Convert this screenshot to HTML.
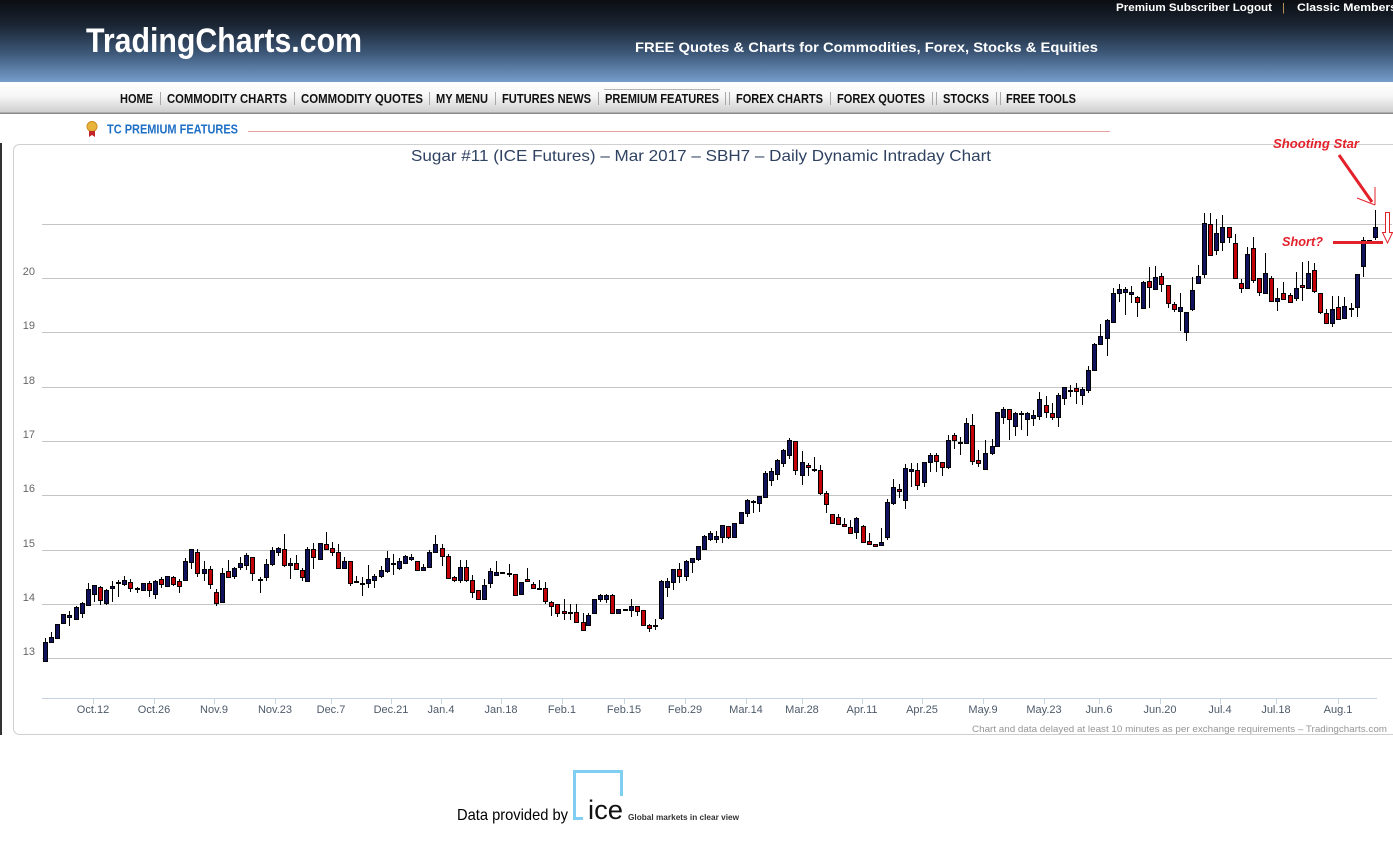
<!DOCTYPE html>
<html>
<head>
<meta charset="utf-8">
<style>
html,body{margin:0;padding:0;background:#fff;}
body{width:1393px;height:841px;overflow:hidden;position:relative;}
svg{display:block;}
text{font-family:"Liberation Sans",Arial,sans-serif;}
</style>
</head>
<body>
<svg id="s" width="1393" height="841" viewBox="0 0 1393 841" xmlns="http://www.w3.org/2000/svg">
<defs>
<linearGradient id="hdr" x1="0" y1="0" x2="0" y2="1">
<stop offset="0" stop-color="#0b0e12"/>
<stop offset="0.3" stop-color="#1a2432"/>
<stop offset="0.65" stop-color="#3d5879"/>
<stop offset="1" stop-color="#769dcb"/>
</linearGradient>
<linearGradient id="nav" x1="0" y1="0" x2="0" y2="1">
<stop offset="0" stop-color="#ffffff"/>
<stop offset="0.45" stop-color="#f6f6f6"/>
<stop offset="1" stop-color="#cdcdcd"/>
</linearGradient>
</defs>
<!-- header -->
<rect x="0" y="0" width="1393" height="82" fill="url(#hdr)"/>
<text x="86" y="52" font-size="34" font-weight="bold" fill="#fff" textLength="276" lengthAdjust="spacingAndGlyphs">TradingCharts.com</text>
<text x="635" y="52" font-size="14" font-weight="bold" fill="#fff" textLength="463" lengthAdjust="spacingAndGlyphs">FREE Quotes &amp; Charts for Commodities, Forex, Stocks &amp; Equities</text>
<text x="1116" y="11" font-size="11" font-weight="bold" fill="#fff" textLength="156" lengthAdjust="spacingAndGlyphs">Premium Subscriber Logout</text>
<text x="1282" y="11" font-size="11" fill="#c9a063">|</text>
<text x="1297" y="11" font-size="11" font-weight="bold" fill="#fff" textLength="100" lengthAdjust="spacingAndGlyphs">Classic Members</text>
<!-- nav -->
<rect x="0" y="82" width="1393" height="31" fill="url(#nav)"/>
<rect x="0" y="112.5" width="1393" height="1.5" fill="#8a8a8a"/>
<line x1="604" y1="89.5" x2="720" y2="89.5" stroke="#b5b5b5" stroke-width="1"/>
<g font-family="'Liberation Sans Narrow','Liberation Sans',sans-serif" font-size="12.5" font-weight="bold" fill="#111">
<text x="120" y="103" textLength="33" lengthAdjust="spacingAndGlyphs">HOME</text>
<text x="167" y="103" textLength="120" lengthAdjust="spacingAndGlyphs">COMMODITY CHARTS</text>
<text x="301" y="103" textLength="122" lengthAdjust="spacingAndGlyphs">COMMODITY QUOTES</text>
<text x="436" y="103" textLength="52" lengthAdjust="spacingAndGlyphs">MY MENU</text>
<text x="502" y="103" textLength="89" lengthAdjust="spacingAndGlyphs">FUTURES NEWS</text>
<text x="605" y="103" textLength="114" lengthAdjust="spacingAndGlyphs">PREMIUM FEATURES</text>
<text x="736" y="103" textLength="87" lengthAdjust="spacingAndGlyphs">FOREX CHARTS</text>
<text x="837" y="103" textLength="88" lengthAdjust="spacingAndGlyphs">FOREX QUOTES</text>
<text x="943" y="103" textLength="46" lengthAdjust="spacingAndGlyphs">STOCKS</text>
<text x="1006" y="103" textLength="70" lengthAdjust="spacingAndGlyphs">FREE TOOLS</text>
</g>
<g stroke="#a8a8a8" stroke-width="1">
<line x1="160.5" y1="92" x2="160.5" y2="105"/>
<line x1="294.5" y1="92" x2="294.5" y2="105"/>
<line x1="429.5" y1="92" x2="429.5" y2="105"/>
<line x1="495.5" y1="92" x2="495.5" y2="105"/>
<line x1="598.5" y1="92" x2="598.5" y2="105"/>
<line x1="725.5" y1="92" x2="725.5" y2="105"/>
<line x1="729.5" y1="92" x2="729.5" y2="105"/>
<line x1="830.5" y1="92" x2="830.5" y2="105"/>
<line x1="932.5" y1="92" x2="932.5" y2="105"/>
<line x1="936.5" y1="92" x2="936.5" y2="105"/>
<line x1="996.5" y1="92" x2="996.5" y2="105"/>
<line x1="1000.5" y1="92" x2="1000.5" y2="105"/>
</g>
<!-- TC premium -->
<circle cx="92" cy="126.5" r="5" fill="#e9b43a" stroke="#c98a1c" stroke-width="1"/>
<path d="M89,131 L89,137 L92,135 L95,137 L95,131 Z" fill="#c0262a"/>
<text x="107" y="133.5" font-family="'Liberation Sans Narrow','Liberation Sans',sans-serif" font-size="12.5" font-weight="bold" fill="#1e6fc6" textLength="131" lengthAdjust="spacingAndGlyphs">TC PREMIUM FEATURES</text>
<line x1="248" y1="131.5" x2="1110" y2="131.5" stroke="#eaa0a0" stroke-width="1"/>
<!-- left dark line -->
<rect x="0" y="143" width="2" height="592" fill="#333"/>
<!-- frame -->
<rect x="13.5" y="144.5" width="1400" height="590" rx="6" ry="6" fill="#fff" stroke="#cfcfcf" stroke-width="1"/>
<text x="411" y="161" font-size="16" fill="#2f4262" textLength="580" lengthAdjust="spacingAndGlyphs">Sugar #11 (ICE Futures) – Mar 2017 – SBH7 – Daily Dynamic Intraday Chart</text>
<!-- grid -->
<g stroke="#c4c4c4" stroke-width="1">
<line x1="42" y1="224.5" x2="1392" y2="224.5"/>
<line x1="42" y1="278.5" x2="1392" y2="278.5"/>
<line x1="42" y1="332.5" x2="1392" y2="332.5"/>
<line x1="42" y1="387.5" x2="1392" y2="387.5"/>
<line x1="42" y1="441.5" x2="1392" y2="441.5"/>
<line x1="42" y1="495.5" x2="1392" y2="495.5"/>
<line x1="42" y1="550.5" x2="1392" y2="550.5"/>
<line x1="42" y1="604.5" x2="1392" y2="604.5"/>
<line x1="42" y1="658.5" x2="1392" y2="658.5"/>
</g>
<g font-size="11" fill="#666" text-anchor="end">
<text x="35" y="275">20</text>
<text x="35" y="329">19</text>
<text x="35" y="384">18</text>
<text x="35" y="438">17</text>
<text x="35" y="492">16</text>
<text x="35" y="547">15</text>
<text x="35" y="601">14</text>
<text x="35" y="655">13</text>
</g>
<!-- x axis -->
<line x1="42" y1="698.5" x2="1377" y2="698.5" stroke="#c6d4e2" stroke-width="1"/>
<g id="xt" stroke="#c6d4e2" stroke-width="1"></g>
<g id="xl" font-size="11" fill="#4d5a6a" text-anchor="middle"></g>
<text x="972" y="732" font-size="9.5" fill="#959595" textLength="415" lengthAdjust="spacingAndGlyphs">Chart and data delayed at least 10 minutes as per exchange requirements – Tradingcharts.com</text>
<!-- candles -->
<g id="cd" shape-rendering="crispEdges"></g>
<!-- annotations -->
<text x="1273" y="148" font-size="13" font-weight="bold" font-style="italic" fill="#e3212b" textLength="86" lengthAdjust="spacingAndGlyphs">Shooting Star</text>
<line x1="1339" y1="155" x2="1372" y2="202" stroke="#e3212b" stroke-width="3"/>
<line x1="1375" y1="205" x2="1357" y2="198" stroke="#e3212b" stroke-width="1"/>
<line x1="1375" y1="205" x2="1375" y2="187" stroke="#e3212b" stroke-width="1"/>
<text x="1282" y="246" font-size="13" font-weight="bold" font-style="italic" fill="#e3212b" textLength="41" lengthAdjust="spacingAndGlyphs">Short?</text>
<rect x="1333" y="241" width="50" height="3" fill="#e3212b"/>
<path d="M1385.5,212.5 L1389.5,212.5 L1389.5,232.5 L1392.5,232.5 L1387.5,243 L1382.5,232.5 L1385.5,232.5 Z" fill="#fff" stroke="#e3212b" stroke-width="1"/>
<!-- footer -->
<text x="457" y="820" font-family="'Liberation Serif',serif" font-size="16" fill="#000" textLength="111" lengthAdjust="spacingAndGlyphs">Data provided by</text>
<path d="M574.5,819 L574.5,771.5 L621.5,771.5 L621.5,796" fill="none" stroke="#80cff3" stroke-width="3"/>
<rect x="573" y="817" width="10" height="3" fill="#80cff3"/>
<text x="588" y="819" font-size="27" fill="#111" textLength="35" lengthAdjust="spacingAndGlyphs">ice</text>
<text x="628" y="820" font-size="8" font-weight="bold" fill="#333" textLength="111" lengthAdjust="spacingAndGlyphs">Global markets in clear view</text>
</svg>
<script>
(function(){
var NS="http://www.w3.org/2000/svg";
function el(t,a,p){var e=document.createElementNS(NS,t);for(var k in a)e.setAttribute(k,a[k]);p.appendChild(e);return e;}
var ticks=[[93,"Oct.12"],[154,"Oct.26"],[214,"Nov.9"],[275,"Nov.23"],[331,"Dec.7"],[391,"Dec.21"],[441,"Jan.4"],[501,"Jan.18"],[562,"Feb.1"],[624,"Feb.15"],[685,"Feb.29"],[746,"Mar.14"],[802,"Mar.28"],[862,"Apr.11"],[922,"Apr.25"],[983,"May.9"],[1044,"May.23"],[1099,"Jun.6"],[1160,"Jun.20"],[1220,"Jul.4"],[1276,"Jul.18"],[1338,"Aug.1"]];
var xt=document.getElementById("xt"),xl=document.getElementById("xl");
ticks.forEach(function(t){el("line",{x1:t[0]+0.5,x2:t[0]+0.5,y1:698,y2:704},xt);var tx=el("text",{x:t[0],y:713},xl);tx.textContent=t[1];});
var C=[
[45,642.3,660.7,638.3,660.7,0],[51.3,637.3,642.3,632.3,642.3,0],[57.3,624.3,638.3,624.3,638.3,0],[63.3,614.3,623.3,614.3,623.3,0],[69.3,615.3,616.7,610.7,626,0],[76.3,607.3,618.7,606,619.3,0],[82,603.3,612.7,602,618,0],[88.3,589.3,605.3,583.3,605.3,0],[94.3,585.3,594,585.3,601.7,0],[100.3,586.7,600,586,604.7,1],
[106.3,590,602.7,589.3,604.7,0],[112.3,586.3,588.3,581.3,601.7,0],[118.3,582,583.3,580,597.3,0],[124.3,580.3,584,576,586,0],[130.3,582,588.3,579.3,591.7,1],[137.3,588.3,589.3,586.7,593.3,0],[143.3,583,590.3,583,590.3,0],[149.3,583,590.3,580.7,596.7,1],[155.3,581,594,580.3,598.7,0],[161.3,578.7,584,576.7,588,1],
[167.3,576.3,586.3,576.3,586.3,0],[173.3,577,584,576,586,1],[179.3,581,586.3,579.3,592.7,1],[185.3,561.3,580,557.7,580,0],[191.3,549.3,562,548.7,568.7,0],[197.3,552.3,573,549.3,576.7,1],[204,569.3,573.3,561,580.7,0],[210,569.3,584.3,566.3,588.7,1],[216,592.3,603,589,606.3,1],[222,573.3,602.3,568.3,602.3,0],
[228.3,571.3,576.7,560,577.3,1],[234.3,567.7,576.3,567.3,579.3,0],[240.3,563.3,567.3,557.3,570,0],[246.3,554.7,565.3,553.3,570,0],[252.3,557.3,573.3,557.3,580.7,1],[259.7,579,580.3,576.7,593.3,0],[265.7,564.3,576.7,559.3,580.7,0],[271.7,550.3,564.3,546.7,566.3,0],[277.7,548,552,546.7,555.7,0],[283.7,549.3,565.3,534,566.7,1],
[289.7,563.3,565.3,558.3,578.7,0],[295.7,563.3,568.7,555.3,568.7,1],[301.7,570,576.7,568.3,580.7,1],[307.3,549.3,580.7,547.3,582,0],[313.3,549.3,556.7,543.3,568.7,1],[320,543.3,559.3,543.3,559.3,0],[326,544,548.7,532,548.7,1],[332,548.3,551.7,542,556,1],
[338,552.3,567.7,544,568.3,1],[344.3,561,567.7,557,567.7,0],[350.3,561,583.3,561,585.7,1],[356.3,581.3,582,575.7,582.3,0],[362.3,583.3,584.3,577.3,595.7,0],[368.3,579,583.3,565.3,588.3,0],[374.3,576,580.3,573.7,588.3,0],[381,570.3,575.7,566.3,578.3,0],[387,558.3,570.7,551,572.7,0],[393,563.3,564.3,554.3,575,0],
[399.3,561,567.7,558.3,569.7,0],[405.3,556,563.3,555,563.7,0],[411.3,557.3,558.7,554.3,560.7,0],[417.3,561,570.3,561,570.3,1],[423.3,567,570.3,563.7,570.3,0],[429.3,552.3,567.3,549.7,567.3,0],[435.3,544.3,552.3,535,552.3,0],[442,548.3,556.3,544.3,565.7,1],[448,556.3,577.7,554.3,578.3,1],[454,577.3,580.3,576.3,581.7,1],
[460,567.3,580.3,560,583.3,0],[466,567.3,580.3,560,581.7,1],[472.3,580.3,592.3,575,597.7,1],[478.3,590.3,599.3,590.3,599.3,1],[484.3,585.3,599.3,579,599.3,0],[490.3,571.3,583.3,568.3,588.3,0],[496.3,572.3,575.3,561,575.7,0],[502.3,572.3,573,572.3,573,0],[509.3,573,573.7,564.3,577,0],[515.3,574.3,595,574.3,595.7,1],
[521.3,582.3,594.3,582.3,595,0],[527.3,579,581.3,568.3,581.7,1],[533.3,584.3,588.3,581.7,589.3,1],[539.3,588,589.3,580,590.3,1],[545.3,588.3,601,582.3,603.7,1],[551.3,601.7,606,601,615.7,1],[557.3,604.3,613,604.3,617,1],[564.3,611.3,613,599,620,1],[570,612.3,613,604.3,620,0],[576,612.3,622.3,604.3,623,1],
[582.7,622.3,630.3,613.3,630.3,1],[588.3,615,625,613.3,625,0],[594.3,599,612.7,599,612.7,0],[600.3,595,598.7,593.7,602.3,0],[606.3,595,599.3,593.7,603,0],[612.3,595,613.3,593.7,613.3,1],[618.3,609.3,613.3,609.3,613.3,0],[625,609,609.7,609,609.7,0],[631.3,606,609.7,599,616.7,0],[637.3,606,611,606,616.3,1],
[643.3,610.3,625,610.3,625,1],[649.3,625,628.3,624.3,631.7,1],[655.3,625,626,619.3,630,0],[661.3,581.3,618.3,580,620.3,0],[667.3,581.3,586.7,578,596.7,0],
[673.3,569.3,581.7,569.3,590,0],[679.3,568.7,575.7,563.3,582.7,1],[686,561,575.7,560,580.7,0],[692.3,558,561.7,558,572.7,0],[698.3,546,558.7,546,560.7,0],[704.3,536,549.3,535,549.3,0],[710.3,533.3,539.3,530.7,541.3,0],[716.3,536,539.3,530.7,543.3,0],[722.3,525.3,537.3,525.3,543.3,0],[728.3,526,536.7,526,538.7,1],
[734.3,523.3,536.7,523.3,536.7,0],[741,512.3,523.3,512.3,523.3,0],[747,500,513.3,498.7,517.3,0],[753,501,502,500,513.3,0],[759,496,503.3,496,511.7,0],[765.3,473.3,497.3,470.7,497.3,0],[771.3,471,480.3,468.3,485.7,0],[777.3,460,474.3,458.7,480.3,0],[783.3,450,463,448.7,466.7,0],[789.3,440,455.3,438,458.7,0],
[795.3,441.3,470.3,441.3,475.3,1],[802,462.3,475.3,451,484.7,0],[808,465.3,467.3,463.3,476.3,1],[814,469.3,470.3,457,472.3,0],[820,470.3,493.3,465,494.7,1],[826,493.3,504,491.3,513.3,1],[832.3,514.3,522.7,514.3,524.3,1],[838.3,517.3,524.3,514,524.3,1],[844.3,524.3,526.3,518.3,527.3,1],[850.3,527.3,533.3,520,534,1],
[856.3,518.3,532.3,516.7,539.3,0],[863.3,526,542.3,525.3,542.3,1],[869.3,540.7,544.3,533.3,544.3,1],[875.3,544,546,544,546.7,1],[881.3,542.3,545.3,528,545.3,0],[887.3,502.3,537.3,499.3,540,0],[893.3,487.3,503.3,478.7,505,0],[899.3,489.3,491.3,484,498.3,1],[905.3,468.3,500,464,508.7,0],[911.3,469.3,471.3,463.3,487.3,0],
[917.3,470.3,485.3,463.3,490,1],[924.3,462.3,482,461.7,486.7,0],[930.3,455,462.3,453.3,472.3,0],[936.3,455.3,461.3,453.3,472.3,1],[942.3,462.3,467.3,462.3,475.7,1],[948.3,440.3,466.7,435,468.7,0],[954.3,435.3,440.3,433.3,449.3,1],[960.3,441.7,442.3,437.3,455.3,0],[966.3,423.3,443.3,418.3,443.3,0],[972.3,425.3,461.3,414,465.3,1],
[978.3,460.3,463.3,450,467.3,1],[985,453.3,468.7,440,470,0],[991.7,446.3,453.3,438.7,455.3,0],
[997.3,412.3,446.3,412.3,446.3,0],[1003.3,409.3,417.3,407,423.7,0],[1009.3,409.3,419.3,409.3,439.7,1],[1015.3,413.3,426.3,412.3,435.7,0],[1021.3,413.3,414.3,411,429.7,0],[1027.3,413.3,419.3,412.3,435.7,0],[1033.3,415.3,418.3,410.3,425.7,0],[1039.3,399.3,416.3,392.3,419.7,0],
[1046.3,405.3,412.3,396.3,417.7,1],[1052.3,413.3,417.3,403,419.7,1],[1058.3,395.3,417.3,393.3,426.7,0],[1064.3,387.3,398.3,386.7,405,0],[1070.3,389.7,390.3,385,396.7,0],[1076.3,387.7,391.3,383.3,403.7,1],[1082.3,389,395.3,386.7,405,0],[1088.3,370.3,390.3,366.3,392.7,0],[1094.3,344.3,370.3,343.3,370.3,0],[1100.3,336.3,344.3,324,345.3,0],
[1107.3,320.3,338.3,319.3,355.7,0],[1113.3,293.3,321.7,288.3,322.3,0],[1119.3,289.3,293.3,284.3,301.7,0],[1125.3,289.3,292.3,287,314.7,0],[1131.3,292.3,294.3,286.3,302.7,0],[1137.3,297.3,302.3,296.3,316.7,1],[1143.3,282.3,308.3,281.3,308.3,0],[1149.3,281.3,287.3,267,308.3,1],[1155.3,277.3,289.3,266.3,289.3,0],[1161.3,276.3,284.3,273.3,292.3,1],
[1168.3,285.3,303.3,285.3,308.3,1],[1174.3,304.3,309.3,302.3,312.3,1],[1180.3,307.3,310.7,293.3,330.7,0],[1186.3,312.3,332.3,312.3,340.7,0],[1192.3,290.3,309.3,277.3,311.3,0],[1198.3,276.3,282.7,265.3,283.7,0],[1204.3,223.3,274.3,213.3,278.3,0],
[1210.3,224.3,255.3,212.7,256,1],[1216.3,233.3,250,219.3,255.3,0],[1222.3,227.3,242.3,215.3,250.7,0],[1229,227.3,237.3,227.3,242.7,1],[1235,243.3,278.3,234.3,279.3,1],[1241.3,283.3,288.3,279.3,292.7,1],[1247.3,254.3,288.3,246.7,288.3,0],[1253.3,248.3,280,236.7,283.3,1],[1259.3,278.3,292.3,278.3,295.7,1],[1265.3,273.3,293.3,252.7,293.3,0],
[1271.3,278.3,301.3,275.7,301.3,1],[1277.3,298.3,301.3,288.3,310.7,0],[1283.3,293.3,299.3,281.7,299.3,1],[1290.3,295.3,302.3,293.3,302.3,1],[1296.3,288.3,298.3,271.7,301.3,0],[1302.3,285,287.3,261.7,301.3,1],[1308.3,273.3,288.3,261,288.3,0],[1314.3,270.3,291.3,263.3,293.3,1],[1320.3,293.3,311.7,293.3,314,1],[1326.3,312.7,323.3,309.3,324,1],
[1332.3,309.3,323.3,295.7,326.7,0],[1338.3,307.3,319.3,296,319.3,1],[1344.3,306,318.3,296.7,318.3,0],[1351.3,308.3,308.7,303.3,316.7,0],[1357.3,274.3,306.7,274.3,316.7,0],[1363.3,240,266,236.7,276.7,0],[1369.3,240,241,240,241,0],[1375.3,227.3,236.7,210,240,0]
];
var g=document.getElementById("cd");
C.forEach(function(c){
 var x=Math.round(c[0]);
 var wt=Math.round(c[3]),wb=Math.round(c[4]);
 var bt=Math.round(c[1]),bb=Math.round(c[2]);
 if(wb>wt) el("rect",{x:x,y:wt,width:1,height:wb-wt,fill:"#000"},g);
 var h=bb-bt; if(h<1)h=1;
 el("rect",{x:x-2,y:bt,width:5,height:h+1,fill:"#000"},g);
 if(h>=2) el("rect",{x:x-1,y:bt+1,width:3,height:h-1,fill:c[5]?"#c20008":"#10125e"},g);
});
})();
</script>
</body>
</html>
